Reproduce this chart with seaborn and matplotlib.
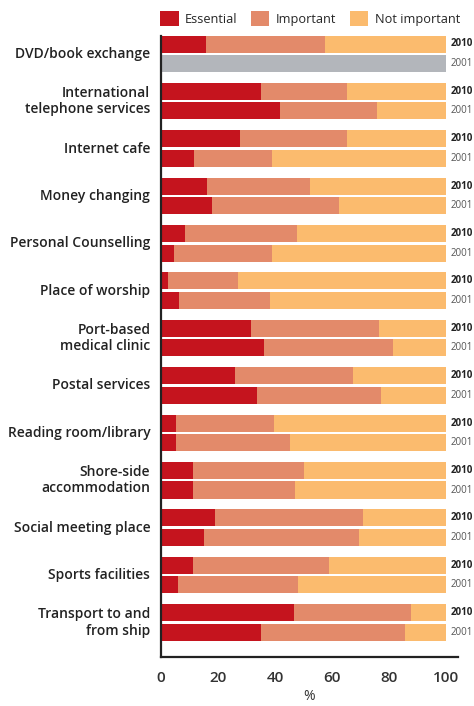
import numpy as np
import pandas as pd
import seaborn as sns
import matplotlib
matplotlib.use("Agg")
import matplotlib.pyplot as plt
from matplotlib.patches import Patch

# survey data: share (%) rating each port service, 2010 vs 2001
services = ['DVD/book exchange', 'International\ntelephone services', 'Internet cafe',
            'Money changing', 'Personal Counselling', 'Place of worship',
            'Port-based\nmedical clinic', 'Postal services', 'Reading room/library',
            'Shore-side\naccommodation', 'Social meeting place', 'Sports facilities',
            'Transport to and\nfrom ship']
years = ['2010', '2001']

essential_2010 = [15.6, 34.9, 27.5, 16.0, 8.3, 2.3, 31.4, 25.8, 5.1, 11.1, 18.8, 11.1, 46.4]
important_2010 = [41.7, 30.4, 37.8, 36.0, 39.2, 24.5, 44.8, 41.6, 34.3, 38.8, 52.1, 47.9, 41.0]
essential_2001 = [np.nan, 41.5, 11.4, 17.7, 4.4, 6.2, 35.9, 33.5, 5.1, 11.1, 14.9, 5.8, 34.9]
important_2001 = [np.nan, 34.0, 27.3, 44.8, 34.3, 31.8, 45.5, 43.4, 39.9, 35.7, 54.3, 42.0, 50.4]

labels = ['Essential', 'Important', 'Not important']
colors = ['#c5141e', '#e38a6a', '#fbbb6e']
no_data_color = '#b3b6bb'

# long table: one row per bar
rows = []
for i, s in enumerate(services):
    for yr, ess, imp in [('2010', essential_2010[i], important_2010[i]),
                         ('2001', essential_2001[i], important_2001[i])]:
        pos = i - 0.206 if yr == '2010' else i + 0.206
        rows.append({'service': s, 'year': yr, 'pos': pos,
                     'ess': ess, 'ess_imp': ess + imp,
                     'total': 100.0, 'nodata': 100.0 if np.isnan(ess) else np.nan})
df = pd.DataFrame(rows)

sns.set_style('white')
plt.rcParams['font.family'] = ['Open Sans', 'DejaVu Sans']

fig = plt.figure(figsize=(4.74, 7.06), dpi=100)
ax = fig.add_axes([0.340, 0.0694, 0.626, 0.8803])

bar_h = 0.36

# stacked: draw cumulative totals back to front
for col, c in [('total', colors[2]), ('ess_imp', colors[1]), ('ess', colors[0]),
               ('nodata', no_data_color)]:
    sub = df.dropna(subset=[col])
    p = np.unique(sub['pos'])
    # seaborn scales width by the smallest spacing of native positions
    w = bar_h / np.diff(p).min() if len(p) > 1 else bar_h
    sns.barplot(data=sub, x=col, y='pos', orient='y', native_scale=True,
                width=w, color=c, saturation=1, linewidth=0, errorbar=None, ax=ax)

ax.set_xlim(0, 104)
ax.set_ylim(12.73, -0.385)
ax.set_xticks([0, 20, 40, 60, 80, 100])
ax.set_xticklabels(['0', '20', '40', '60', '80', '100'], fontsize=11,
                   fontweight='semibold', color='#333333')
ax.tick_params(axis='x', length=0, pad=10)
ax.set_yticks([])
ax.set_ylabel('')
ax.set_xlabel('%', fontsize=10, color='#333333', labelpad=3)
for side in ['top', 'right']:
    ax.spines[side].set_visible(False)
for side in ['left', 'bottom']:
    ax.spines[side].set_color('#222222')
    ax.spines[side].set_linewidth(1.6)

for i, s in enumerate(services):
    ax.text(-3.8, i, s, ha='right', va='center', fontsize=10, fontweight='semibold',
            color='#222222', linespacing=1.2, clip_on=False)
    ax.text(101.5, i - 0.206, '2010', ha='left', va='center', fontsize=7,
            fontweight='bold', color='#222222', clip_on=False)
    ax.text(101.5, i + 0.206, '2001', ha='left', va='center', fontsize=7,
            color='#555555', clip_on=False)

handles = [Patch(facecolor=c, edgecolor='none') for c in colors]
fig.legend(handles, labels, loc='upper left', bbox_to_anchor=(0.327, 0.992), ncol=3,
           frameon=False, fontsize=9.2, handlelength=1.45, handleheight=1.45,
           handletextpad=0.5, columnspacing=1.05, borderaxespad=0)

fig.savefig('out.png', dpi=100)
